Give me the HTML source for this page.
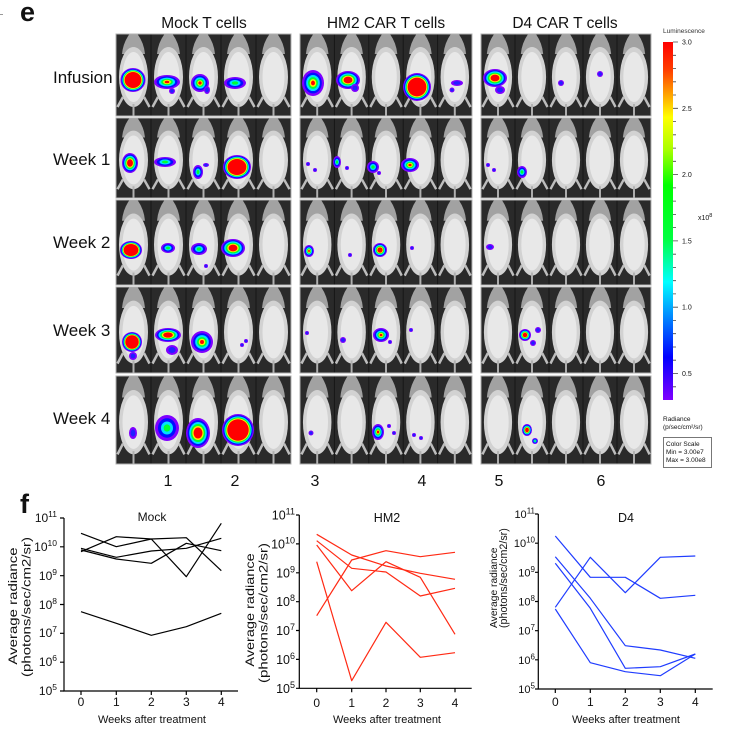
<!DOCTYPE html>
<html>
<head>
<meta charset="utf-8">
<style>
  html,body{margin:0;padding:0;background:#fff;}
  svg{display:block;}
  text{font-family:"Liberation Sans",Arial,sans-serif;fill:#111;}
</style>
</head>
<body>
<svg width="740" height="731" viewBox="0 0 740 731" xmlns="http://www.w3.org/2000/svg">
<defs>
  <linearGradient id="cbar" x1="0" y1="0" x2="0" y2="1">
    <stop offset="0" stop-color="#ff0000"/>
    <stop offset="0.08" stop-color="#ff4000"/>
    <stop offset="0.14" stop-color="#ff9900"/>
    <stop offset="0.21" stop-color="#ffff00"/>
    <stop offset="0.30" stop-color="#aaff00"/>
    <stop offset="0.40" stop-color="#00ff00"/>
    <stop offset="0.55" stop-color="#00ff40"/>
    <stop offset="0.67" stop-color="#00ffff"/>
    <stop offset="0.80" stop-color="#0060ff"/>
    <stop offset="0.88" stop-color="#0000ff"/>
    <stop offset="1" stop-color="#8000ff"/>
  </linearGradient>
  <g id="mouse">
    <path d="M13.5,0 L21.5,0 Q28,9 29,20 L6,20 Q7,9 13.5,0Z" fill="#a2a2a2"/>
    <ellipse cx="17.5" cy="43" rx="14.5" ry="30" fill="#d2d2d2"/>
    <ellipse cx="17.5" cy="43" rx="11" ry="25" fill="#e8e8e8"/>
    <path d="M7,63 L1.5,73 M28,63 L33.5,73" stroke="#bdbdbd" stroke-width="2.5"/>
    <rect x="16.5" y="70" width="2" height="12" fill="#b0b0b0"/>
  </g>
  <g id="m5">
    <rect width="175" height="82" fill="#2a2a2a"/>
    <use href="#mouse" x="0"/>
    <use href="#mouse" x="35"/>
    <use href="#mouse" x="70"/>
    <use href="#mouse" x="105"/>
    <use href="#mouse" x="140"/>
    <path d="M35,0V82M70,0V82M105,0V82M140,0V82" stroke="#161616" stroke-width="1"/>
  </g>
  <g id="b5">
    <circle r="1" fill="#7f00ff"/><circle r="0.92" fill="#0010ff"/><circle r="0.85" fill="#00e0ff"/>
    <circle r="0.79" fill="#00ff30"/><circle r="0.73" fill="#ffee00"/><circle r="0.67" fill="#ff0000"/>
  </g>
  <g id="b4">
    <circle r="1" fill="#7f00ff"/><circle r="0.86" fill="#0010ff"/><circle r="0.73" fill="#00e0ff"/>
    <circle r="0.6" fill="#00ff30"/><circle r="0.47" fill="#ffee00"/><circle r="0.37" fill="#ff0000"/>
  </g>
  <g id="b3">
    <circle r="1" fill="#7f00ff"/><circle r="0.8" fill="#0010ff"/><circle r="0.62" fill="#00e0ff"/>
    <circle r="0.45" fill="#00ff30"/><circle r="0.3" fill="#ffee00"/><circle r="0.18" fill="#ff0000"/>
  </g>
  <g id="b2">
    <circle r="1" fill="#7f00ff"/><circle r="0.75" fill="#0010ff"/><circle r="0.5" fill="#00e0ff"/>
    <circle r="0.28" fill="#00ff30"/>
  </g>
  <g id="b1">
    <circle r="1" fill="#8000ff"/><circle r="0.6" fill="#2020ff"/>
  </g>
</defs>

<!-- panel labels -->
<rect x="0" y="14" width="3" height="1" fill="#999"/>
<text x="20" y="21" font-size="27" font-weight="bold">e</text>
<text x="20" y="513" font-size="27" font-weight="bold">f</text>

<!-- column titles -->
<text x="204" y="28" font-size="15.5" text-anchor="middle">Mock T cells</text>
<text x="386" y="28" font-size="15.5" text-anchor="middle">HM2 CAR T cells</text>
<text x="565" y="28" font-size="15.5" text-anchor="middle">D4 CAR T cells</text>

<!-- row labels -->
<text x="53" y="83" font-size="17">Infusion</text>
<text x="53" y="165" font-size="17">Week 1</text>
<text x="53" y="248" font-size="17">Week 2</text>
<text x="53" y="336" font-size="17">Week 3</text>
<text x="53" y="424" font-size="17">Week 4</text>

<!-- image panels -->
<g transform="translate(116,34) scale(1,1)"><use href="#m5"/></g>
<g transform="translate(300,34) scale(0.9829,1)"><use href="#m5"/></g>
<g transform="translate(481,34) scale(0.9714,1)"><use href="#m5"/></g>
<g transform="translate(116,118) scale(1,0.9756)"><use href="#m5"/></g>
<g transform="translate(300,118) scale(0.9829,0.9756)"><use href="#m5"/></g>
<g transform="translate(481,118) scale(0.9714,0.9756)"><use href="#m5"/></g>
<g transform="translate(116,200) scale(1,1.0366)"><use href="#m5"/></g>
<g transform="translate(300,200) scale(0.9829,1.0366)"><use href="#m5"/></g>
<g transform="translate(481,200) scale(0.9714,1.0366)"><use href="#m5"/></g>
<g transform="translate(116,287) scale(1,1.0488)"><use href="#m5"/></g>
<g transform="translate(300,287) scale(0.9829,1.0488)"><use href="#m5"/></g>
<g transform="translate(481,287) scale(0.9714,1.0488)"><use href="#m5"/></g>
<g transform="translate(116,376) scale(1,1.0732)"><use href="#m5"/></g>
<g transform="translate(300,376) scale(0.9829,1.0732)"><use href="#m5"/></g>
<g transform="translate(481,376) scale(0.9714,1.0732)"><use href="#m5"/></g>

<!-- panel borders -->
<g fill="none" stroke="#b0b0b0" stroke-width="1">
  <rect x="116" y="34" width="175" height="82"/><rect x="300" y="34" width="172" height="82"/><rect x="481" y="34" width="170" height="82"/>
  <rect x="116" y="118" width="175" height="80"/><rect x="300" y="118" width="172" height="80"/><rect x="481" y="118" width="170" height="80"/>
  <rect x="116" y="200" width="175" height="85"/><rect x="300" y="200" width="172" height="85"/><rect x="481" y="200" width="170" height="85"/>
  <rect x="116" y="287" width="175" height="86"/><rect x="300" y="287" width="172" height="86"/><rect x="481" y="287" width="170" height="86"/>
  <rect x="116" y="376" width="175" height="88"/><rect x="300" y="376" width="172" height="88"/><rect x="481" y="376" width="170" height="88"/>
</g>

<!-- heat blobs -->
<use href="#b5" transform="translate(133,80) scale(12.5,12)"/>
<use href="#b3" transform="translate(167,82) scale(13,7)"/>
<use href="#b1" transform="translate(172,91) scale(3,3)"/>
<use href="#b3" transform="translate(200,83) scale(9,9)"/>
<use href="#b1" transform="translate(207,90) scale(3,4)"/>
<use href="#b2" transform="translate(235,83) scale(11,6)"/>
<use href="#b3" transform="translate(313,83) scale(11,13)"/>
<use href="#b4" transform="translate(348,80) scale(12,9)"/>
<use href="#b1" transform="translate(355,88) scale(4,4)"/>
<use href="#b5" transform="translate(417,87) scale(14,14)"/>
<use href="#b1" transform="translate(457,83) scale(6,3)"/>
<use href="#b1" transform="translate(452,90) scale(2.5,2.5)"/>
<use href="#b4" transform="translate(495,78) scale(12,9)"/>
<use href="#b1" transform="translate(500,90) scale(5,4)"/>
<use href="#b1" transform="translate(561,83) scale(3,3)"/>
<use href="#b1" transform="translate(600,74) scale(3,3)"/>
<use href="#b4" transform="translate(130,163) scale(8,10)"/>
<use href="#b2" transform="translate(165,162) scale(11,5)"/>
<use href="#b2" transform="translate(198,172) scale(5,7)"/>
<use href="#b1" transform="translate(206,165) scale(3,2)"/>
<use href="#b5" transform="translate(237,167) scale(14,12)"/>
<use href="#b1" transform="translate(308,164) scale(2,2)"/>
<use href="#b1" transform="translate(315,170) scale(2,2)"/>
<use href="#b2" transform="translate(337,162) scale(4,6)"/>
<use href="#b1" transform="translate(347,168) scale(2,2)"/>
<use href="#b2" transform="translate(373,167) scale(6,6)"/>
<use href="#b1" transform="translate(379,173) scale(2,2)"/>
<use href="#b3" transform="translate(410,165) scale(9,7)"/>
<use href="#b1" transform="translate(488,165) scale(2,2)"/>
<use href="#b1" transform="translate(494,170) scale(2,2)"/>
<use href="#b2" transform="translate(522,172) scale(5,6)"/>
<use href="#b5" transform="translate(131,250) scale(11,9)"/>
<use href="#b2" transform="translate(168,248) scale(7,5)"/>
<use href="#b2" transform="translate(199,249) scale(8,6)"/>
<use href="#b1" transform="translate(206,266) scale(2,2)"/>
<use href="#b4" transform="translate(233,248) scale(12,9)"/>
<use href="#b3" transform="translate(309,251) scale(5,6)"/>
<use href="#b1" transform="translate(350,255) scale(2,2)"/>
<use href="#b4" transform="translate(380,250) scale(7,7)"/>
<use href="#b1" transform="translate(412,248) scale(2,2)"/>
<use href="#b1" transform="translate(490,247) scale(4,3)"/>
<use href="#b5" transform="translate(132,342) scale(10,10)"/>
<use href="#b1" transform="translate(133,356) scale(4,4)"/>
<use href="#b4" transform="translate(168,335) scale(13,7)"/>
<use href="#b1" transform="translate(172,350) scale(6,5)"/>
<use href="#b3" transform="translate(202,342) scale(11,11)"/>
<use href="#b1" transform="translate(242,345) scale(2,2)"/>
<use href="#b1" transform="translate(246,341) scale(2,2)"/>
<use href="#b1" transform="translate(307,333) scale(2,2)"/>
<use href="#b1" transform="translate(343,340) scale(3,3)"/>
<use href="#b3" transform="translate(381,335) scale(8,7)"/>
<use href="#b1" transform="translate(390,342) scale(2,2)"/>
<use href="#b1" transform="translate(411,330) scale(2,2)"/>
<use href="#b4" transform="translate(525,335) scale(6,6)"/>
<use href="#b1" transform="translate(538,330) scale(3,3)"/>
<use href="#b1" transform="translate(533,343) scale(3,3)"/>
<use href="#b1" transform="translate(133,433) scale(4,6)"/>
<use href="#b2" transform="translate(167,428) scale(12,13)"/>
<use href="#b4" transform="translate(198,433) scale(12,15)"/>
<use href="#b5" transform="translate(238,430) scale(16,16)"/>
<use href="#b1" transform="translate(311,433) scale(2.5,2.5)"/>
<use href="#b3" transform="translate(378,432) scale(6,8)"/>
<use href="#b1" transform="translate(389,426) scale(2,2)"/>
<use href="#b1" transform="translate(394,433) scale(2,2)"/>
<use href="#b1" transform="translate(414,435) scale(2,2)"/>
<use href="#b1" transform="translate(421,438) scale(2,2)"/>
<use href="#b4" transform="translate(527,430) scale(5,6)"/>
<use href="#b2" transform="translate(535,441) scale(3,3)"/>

<!-- mouse numbers -->
<g font-size="16" text-anchor="middle">
  <text x="168" y="486">1</text>
  <text x="235" y="486">2</text>
  <text x="315" y="486">3</text>
  <text x="422" y="486">4</text>
  <text x="499" y="486">5</text>
  <text x="601" y="486">6</text>
</g>

<!-- color bar -->
<text x="663" y="33" font-size="6.5" style="fill:#333">Luminescence</text>
<rect x="663" y="42" width="10" height="358" fill="url(#cbar)"/>
<g stroke="#444" stroke-width="0.8">
  <path d="M673,42h5M673,108.3h5M673,174.6h5M673,240.9h5M673,307.2h5M673,373.5h5"/>
  <path d="M673,55.3h3M673,68.5h3M673,81.8h3M673,95.0h3M673,121.6h3M673,134.8h3M673,148.1h3M673,161.3h3M673,187.9h3M673,201.1h3M673,214.4h3M673,227.6h3M673,254.2h3M673,267.4h3M673,280.7h3M673,293.9h3M673,320.5h3M673,333.7h3M673,347.0h3M673,360.2h3M673,386.8h3"/>
</g>
<g font-size="7" style="fill:#333">
  <text x="682" y="44.5">3.0</text>
  <text x="682" y="110.8">2.5</text>
  <text x="682" y="177.1">2.0</text>
  <text x="682" y="243.4">1.5</text>
  <text x="682" y="309.7">1.0</text>
  <text x="682" y="376">0.5</text>
  <text x="698" y="220">x10<tspan font-size="5.5" dy="-3">8</tspan></text>
  <text x="663" y="421" font-size="6.5">Radiance</text>
  <text x="663" y="429" font-size="6.5">(p/sec/cm²/sr)</text>
</g>
<rect x="663.5" y="437.5" width="48" height="30" fill="#fff" stroke="#777" stroke-width="1"/>
<g font-size="6.5" style="fill:#333">
  <text x="666" y="446">Color Scale</text>
  <text x="666" y="454">Min = 3.00e7</text>
  <text x="666" y="462">Max = 3.00e8</text>
</g>

<!-- ============ Mock chart ============ -->
<g stroke="#000" stroke-width="1.2" fill="none">
  <path d="M64,518V691H238"/>
  <path d="M60,518h4M60,546.8h4M60,575.7h4M60,604.5h4M60,633.3h4M60,662.2h4M60,691h4"/>
  <path d="M81,691v4M116.3,691v4M151.3,691v4M186.3,691v4M221.3,691v4"/>
</g>
<g font-size="12" text-anchor="end">
  <text x="57" y="522">10<tspan font-size="8.5" dy="-5">11</tspan></text>
  <text x="57" y="551">10<tspan font-size="8.5" dy="-5">10</tspan></text>
  <text x="57" y="580">10<tspan font-size="8.5" dy="-5">9</tspan></text>
  <text x="57" y="609">10<tspan font-size="8.5" dy="-5">8</tspan></text>
  <text x="57" y="637">10<tspan font-size="8.5" dy="-5">7</tspan></text>
  <text x="57" y="666">10<tspan font-size="8.5" dy="-5">6</tspan></text>
  <text x="57" y="695">10<tspan font-size="8.5" dy="-5">5</tspan></text>
</g>
<g font-size="12" text-anchor="middle">
  <text x="81" y="706">0</text><text x="116.3" y="706">1</text><text x="151.3" y="706">2</text><text x="186.3" y="706">3</text><text x="221.3" y="706">4</text>
  <text x="152" y="723" font-size="11">Weeks after treatment</text>
  <text x="152" y="521" font-size="12">Mock</text>
</g>
<text transform="translate(17,606) rotate(-90) scale(1,0.82)" font-size="15" text-anchor="middle">Average radiance</text>
<text transform="translate(30.5,607) rotate(-90) scale(1,0.82)" font-size="15" text-anchor="middle">(photons/sec/cm2/sr)</text>
<g stroke="#000" stroke-width="1.2" fill="none" stroke-linejoin="round">
  <polyline points="81,533.3 116.3,546.7 151.3,539 186.3,576.7 221.3,523.3"/>
  <polyline points="81,551.7 116.3,536.7 151.3,539 186.3,537.7 221.3,570.7"/>
  <polyline points="81,548.3 116.3,557.3 151.3,551 186.3,548.3 221.3,538.3"/>
  <polyline points="81,550 116.3,559 151.3,563.3 186.3,543.3 221.3,550.7"/>
  <polyline points="81,611.7 116.3,623.3 151.3,635.3 186.3,626.7 221.3,613.3"/>
</g>

<!-- ============ HM2 chart ============ -->
<g stroke="#000" stroke-width="1.2" fill="none">
  <path d="M299.3,515V688.3H471.7"/>
  <path d="M296,515h3.3M296,543.9h3.3M296,572.8h3.3M296,601.7h3.3M296,630.5h3.3M296,659.4h3.3M296,688.3h3.3"/>
  <path d="M316.7,688.3v4M351.7,688.3v4M386,688.3v4M420.3,688.3v4M455,688.3v4"/>
</g>
<g font-size="12.5" text-anchor="end">
  <text x="295" y="519.5">10<tspan font-size="9" dy="-5">11</tspan></text>
  <text x="295" y="548.4">10<tspan font-size="9" dy="-5">10</tspan></text>
  <text x="295" y="577.3">10<tspan font-size="9" dy="-5">9</tspan></text>
  <text x="295" y="606.2">10<tspan font-size="9" dy="-5">8</tspan></text>
  <text x="295" y="635">10<tspan font-size="9" dy="-5">7</tspan></text>
  <text x="295" y="663.9">10<tspan font-size="9" dy="-5">6</tspan></text>
  <text x="295" y="692.8">10<tspan font-size="9" dy="-5">5</tspan></text>
</g>
<g font-size="12" text-anchor="middle">
  <text x="316.7" y="707">0</text><text x="351.7" y="707">1</text><text x="386" y="707">2</text><text x="420.3" y="707">3</text><text x="455" y="707">4</text>
  <text x="387" y="723" font-size="11">Weeks after treatment</text>
  <text x="387" y="522" font-size="12.5">HM2</text>
</g>
<text transform="translate(254,610) rotate(-90) scale(1,0.82)" font-size="14.5" text-anchor="middle">Average radiance</text>
<text transform="translate(267.5,613) rotate(-90) scale(1,0.82)" font-size="15" text-anchor="middle">(photons/sec/cm2/sr)</text>
<g stroke="#ff2a14" stroke-width="1.2" fill="none" stroke-linejoin="round">
  <polyline points="316.7,534.3 351.7,555 386,566 420.3,573.3 455,579.3"/>
  <polyline points="316.7,540.7 351.7,568.3 386,572 420.3,596 455,588.3"/>
  <polyline points="316.7,545 351.7,590.7 386,561.7 420.3,577.3 455,634.3"/>
  <polyline points="316.7,615.7 351.7,560 386,550.7 420.3,556.7 455,552.3"/>
  <polyline points="316.7,561.7 351.7,680.7 386,622.3 420.3,657.3 455,652.7"/>
</g>

<!-- ============ D4 chart ============ -->
<g stroke="#000" stroke-width="1.2" fill="none">
  <path d="M538.3,514V689H712.7"/>
  <path d="M535,514h3.3M535,543.2h3.3M535,572.3h3.3M535,601.5h3.3M535,630.7h3.3M535,659.8h3.3M535,689h3.3"/>
  <path d="M555.3,689v4M590.3,689v4M625.3,689v4M660.3,689v4M695.3,689v4"/>
</g>
<g font-size="11" text-anchor="end">
  <text x="535" y="518">10<tspan font-size="8" dy="-4.5">11</tspan></text>
  <text x="535" y="547.2">10<tspan font-size="8" dy="-4.5">10</tspan></text>
  <text x="535" y="576.3">10<tspan font-size="8" dy="-4.5">9</tspan></text>
  <text x="535" y="605.5">10<tspan font-size="8" dy="-4.5">8</tspan></text>
  <text x="535" y="634.7">10<tspan font-size="8" dy="-4.5">7</tspan></text>
  <text x="535" y="663.8">10<tspan font-size="8" dy="-4.5">6</tspan></text>
  <text x="535" y="693">10<tspan font-size="8" dy="-4.5">5</tspan></text>
</g>
<g font-size="12" text-anchor="middle">
  <text x="555.3" y="706">0</text><text x="590.3" y="706">1</text><text x="625.3" y="706">2</text><text x="660.3" y="706">3</text><text x="695.3" y="706">4</text>
  <text x="626" y="723" font-size="11">Weeks after treatment</text>
  <text x="626" y="522" font-size="12.5">D4</text>
</g>
<text transform="translate(497,628) rotate(-90)" font-size="10.3">Average radiance</text>
<text transform="translate(507,628) rotate(-90)" font-size="10.7">(photons/sec/cm2/sr)</text>
<g stroke="#1f3cff" stroke-width="1.2" fill="none" stroke-linejoin="round">
  <polyline points="555.3,536 590.3,577.3 625.3,577.3 660.3,598.3 695.3,595.3"/>
  <polyline points="555.3,607.3 590.3,557.3 625.3,592.7 660.3,557.3 695.3,556"/>
  <polyline points="555.3,556.7 590.3,598.3 625.3,645.7 660.3,650 695.3,658.3"/>
  <polyline points="555.3,563.3 590.3,608.3 625.3,668.3 660.3,666.7 695.3,654"/>
  <polyline points="555.3,609 590.3,662.7 625.3,671.7 660.3,675.7 695.3,654"/>
</g>
</svg>
</body>
</html>
